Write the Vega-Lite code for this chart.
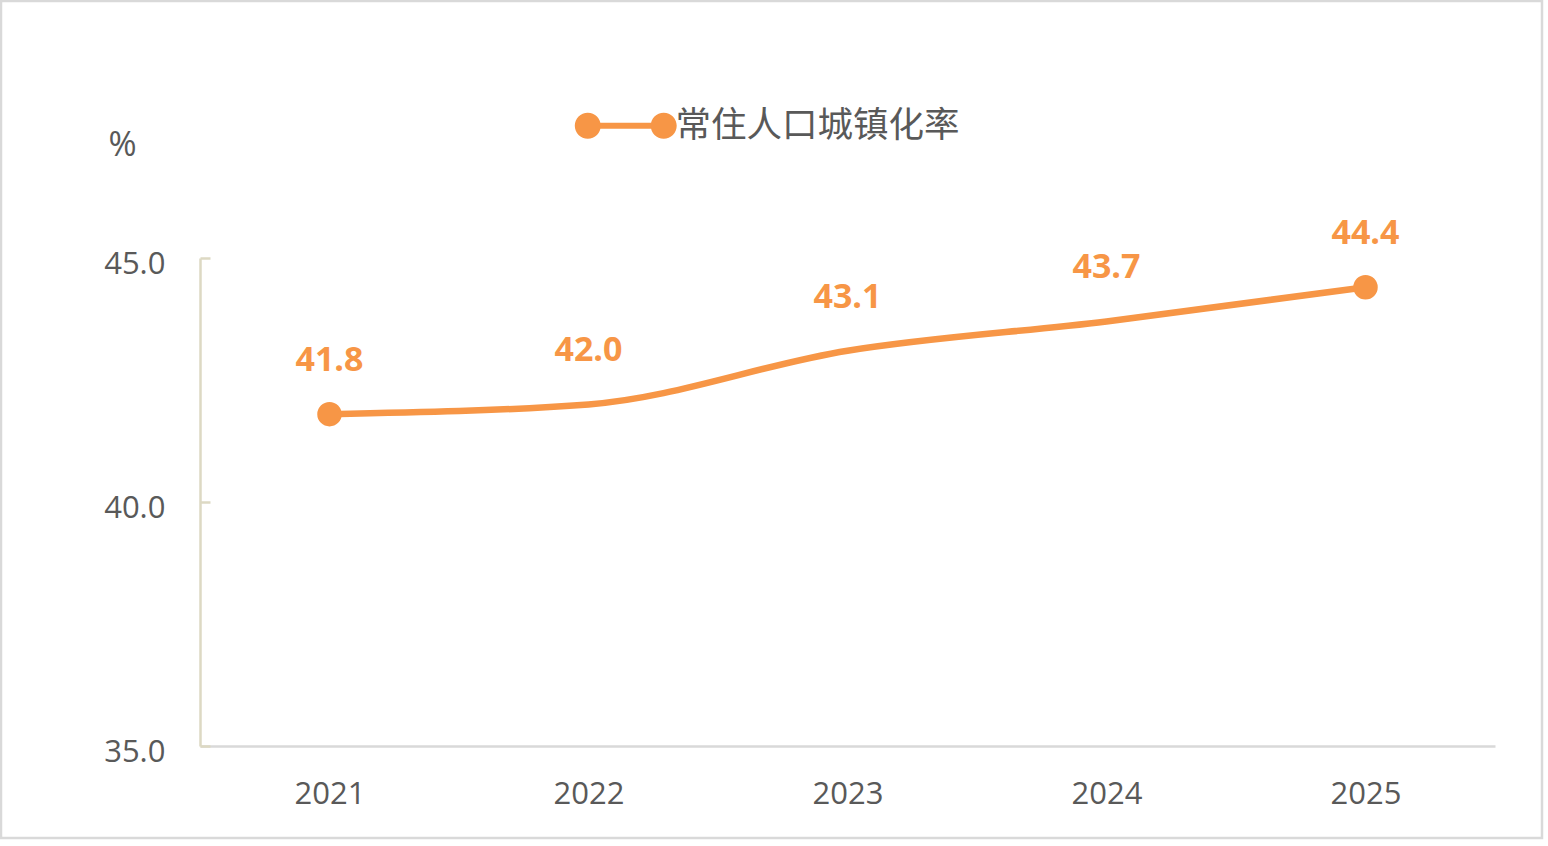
{
  "$schema": "https://vega.github.io/schema/vega-lite/v6.json",
  "width": 1541,
  "height": 837,
  "padding": {"left": 1, "top": 1, "right": 6, "bottom": 8},
  "autosize": {"type": "none"},
  "background": "#ffffff",
  "config": {
    "font": "Open Sans",
    "view": {"stroke": "#d9d9d9", "strokeWidth": 2.5}
  },
  "data": {
    "values": [
      {"year": "2021", "rate": 41.8, "series": "常住人口城镇化率", "endpoint": true},
      {"year": "2022", "rate": 42.0, "series": "常住人口城镇化率", "endpoint": false},
      {"year": "2023", "rate": 43.1, "series": "常住人口城镇化率", "endpoint": false},
      {"year": "2024", "rate": 43.7, "series": "常住人口城镇化率", "endpoint": false},
      {"year": "2025", "rate": 44.4, "series": "常住人口城镇化率", "endpoint": true}
    ]
  },
  "encoding": {
    "x": {
      "field": "year", "type": "ordinal",
      "scale": {"type": "point", "padding": 0.5, "range": [199, 1494]},
      "axis": {
        "title": null, "orient": "bottom", "offset": -92,
        "labelAngle": 0, "labelFontSize": 31, "labelColor": "#595959",
        "labelPadding": 33, "ticks": false,
        "domainColor": "#d9d9d9", "domainWidth": 2.5, "grid": false
      }
    },
    "y": {
      "field": "rate", "type": "quantitative",
      "scale": {"domain": [35, 45], "range": [745, 257], "zero": false, "nice": false},
      "axis": {
        "title": "%", "titleAngle": 0, "titleX": -78, "titleY": 144,
        "titleAlign": "center", "titleBaseline": "middle",
        "titleFontSize": 34, "titleFontWeight": "normal", "titleColor": "#595959",
        "orient": "left", "offset": -199,
        "values": [35, 40, 45], "format": ".1f",
        "labelFontSize": 31, "labelColor": "#595959", "labelOffset": 6,
        "tickSize": -10, "tickColor": "#ddd9c3", "tickWidth": 2.5,
        "labelPadding": 45,
        "domainColor": "#ddd9c3", "domainWidth": 2.5, "grid": false
      }
    }
  },
  "layer": [
    {
      "mark": {"type": "line", "interpolate": "monotone", "color": "#F79646", "strokeWidth": 6.5}
    },
    {
      "transform": [{"filter": "datum.endpoint"}],
      "mark": {"type": "point", "filled": true, "opacity": 1, "size": 600},
      "encoding": {
        "color": {
          "field": "series", "type": "nominal",
          "scale": {"domain": ["常住人口城镇化率"], "range": ["#F79646"]},
          "legend": {
            "title": null, "orient": "none", "legendX": 607, "legendY": 107,
            "padding": 0,
            "symbolType": "M -3.92 0 A 1 1 0 1 1 -1.92 0 A 1 1 0 1 1 -3.92 0 Z M -2.92 -0.23 L 2.92 -0.23 L 2.92 0.23 L -2.92 0.23 Z M 1.92 0 A 1 1 0 1 1 3.92 0 A 1 1 0 1 1 1.92 0 Z",
            "symbolSize": 676, "symbolStrokeWidth": 0, "symbolOpacity": 1,
            "labelOffset": 32, "labelFont": "Noto Sans CJK SC", "labelFontSize": 35.5,
            "labelColor": "#595959", "labelLimit": 0
          }
        }
      }
    },
    {
      "mark": {"type": "text", "dy": -53, "baseline": "middle", "align": "center",
               "font": "Open Sans", "fontSize": 34, "fontWeight": "bold", "color": "#F79646"},
      "encoding": {"text": {"field": "rate", "type": "quantitative", "format": ".1f"}}
    }
  ]
}
